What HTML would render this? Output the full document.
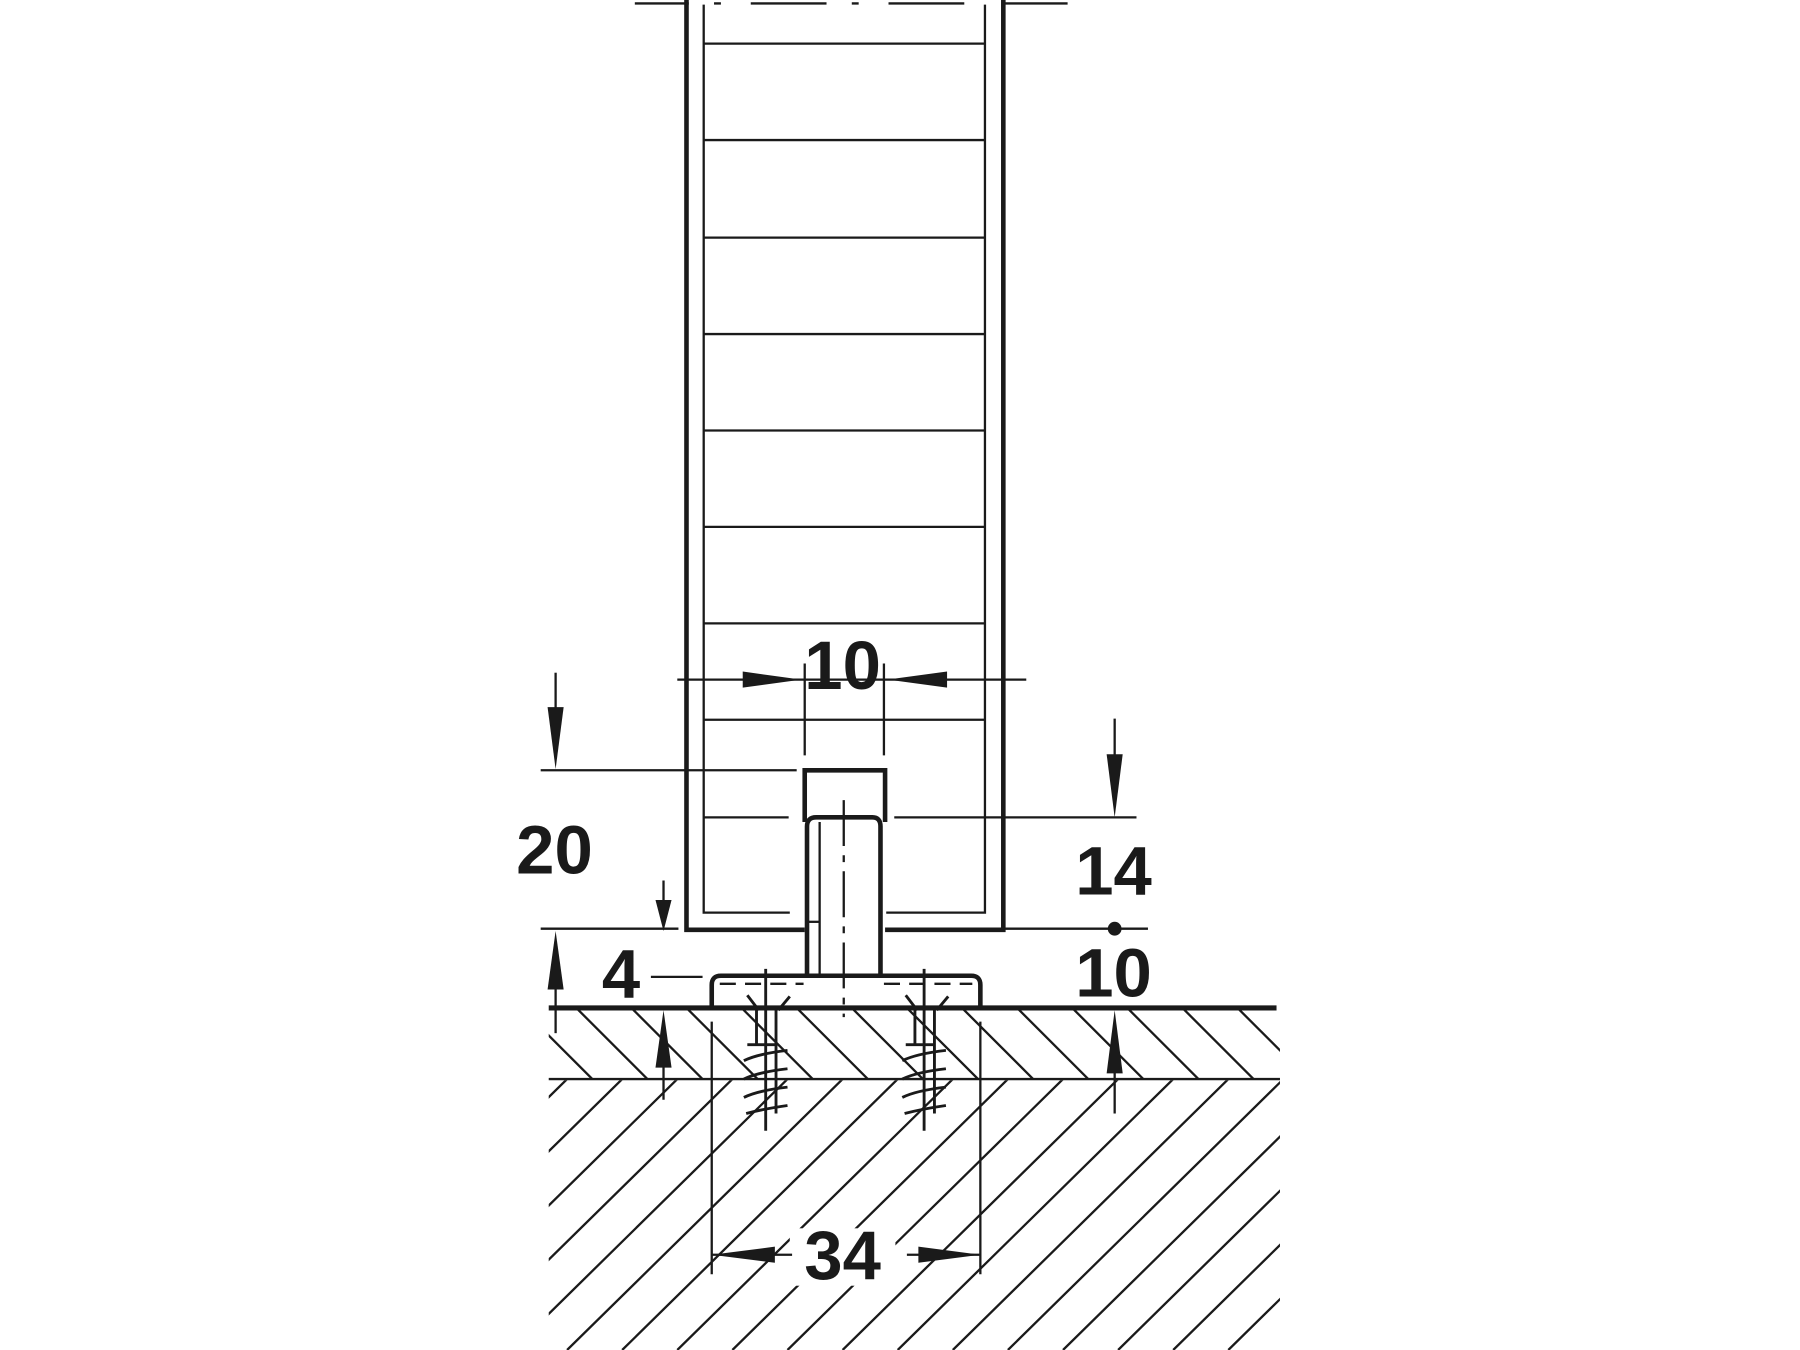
<!DOCTYPE html>
<html><head><meta charset="utf-8"><style>
html,body{margin:0;padding:0;background:#fff;}
svg{display:block;}
text{font-family:"Liberation Sans",Arial,sans-serif;font-weight:bold;fill:#1a1a1a;}
</style></head><body>
<svg width="1800" height="1350" viewBox="0 0 1568 1176" xmlns="http://www.w3.org/2000/svg">
<defs>
<clipPath id="c1"><rect x="478" y="880" width="637" height="60"/></clipPath>
<clipPath id="c2"><rect x="478" y="941" width="637" height="235"/></clipPath>
</defs>
<g stroke="#1a1a1a" fill="none" stroke-linecap="butt">
<line x1="553" y1="3" x2="600" y2="3" stroke-width="2"/>
<line x1="875" y1="3" x2="930" y2="3" stroke-width="2"/>
<line x1="622" y1="3" x2="858" y2="3" stroke-width="2" stroke-dasharray="6 26 66 22 6 26 66 22"/>
<path d="M598 0 V810 H701" stroke-width="4"/>
<path d="M874 0 V810 H771" stroke-width="4"/>
<path d="M613 4 V795 H688" stroke-width="2"/>
<path d="M858 4 V795 H772" stroke-width="2"/>
<g stroke-width="2">
<line x1="613" y1="38" x2="858" y2="38"/>
<line x1="613" y1="122" x2="858" y2="122"/>
<line x1="613" y1="207" x2="858" y2="207"/>
<line x1="613" y1="291" x2="858" y2="291"/>
<line x1="613" y1="375" x2="858" y2="375"/>
<line x1="613" y1="459" x2="858" y2="459"/>
<line x1="613" y1="543" x2="858" y2="543"/>
<line x1="613" y1="627" x2="858" y2="627"/>
<line x1="613" y1="712" x2="687" y2="712"/>
<line x1="779" y1="712" x2="990" y2="712"/>
<line x1="471" y1="671" x2="694" y2="671"/>
<line x1="471" y1="809" x2="591" y2="809"/>
<line x1="874" y1="809" x2="1000" y2="809"/>
<line x1="567" y1="851" x2="612" y2="851"/>
<line x1="590" y1="592" x2="894" y2="592"/>
<line x1="701" y1="578" x2="701" y2="658"/>
<line x1="770" y1="578" x2="770" y2="658"/>
</g>
<path d="M701 716 V671 H771 V716" stroke-width="4"/>
<path d="M703 850 V720 Q703 712 711 712 H760 Q767 712 767 720 V850" stroke-width="4"/>
<line x1="714" y1="716" x2="714" y2="850" stroke-width="2"/>
<line x1="703" y1="803" x2="714" y2="803" stroke-width="2"/>
<line x1="735" y1="697" x2="735" y2="886" stroke-width="2" stroke-dasharray="40 8 6 8"/>
<path d="M620 878 V858 Q620 850 628 850 H846 Q854 850 854 858 V878" stroke-width="4"/>
<line x1="627" y1="857" x2="700" y2="857" stroke-width="2" stroke-dasharray="14 8"/>
<line x1="770" y1="857" x2="847" y2="857" stroke-width="2" stroke-dasharray="14 8"/>
<line x1="478" y1="878" x2="1112" y2="878" stroke-width="4.5"/>
<line x1="478" y1="940" x2="1115" y2="940" stroke-width="2"/>
<g clip-path="url(#c1)" stroke-width="2">
<line x1="406" y1="878" x2="468" y2="940"/><line x1="454" y1="878" x2="516" y2="940"/><line x1="502" y1="878" x2="564" y2="940"/><line x1="550" y1="878" x2="612" y2="940"/><line x1="598" y1="878" x2="660" y2="940"/><line x1="646" y1="878" x2="708" y2="940"/><line x1="694" y1="878" x2="756" y2="940"/><line x1="742" y1="878" x2="804" y2="940"/><line x1="790" y1="878" x2="852" y2="940"/><line x1="838" y1="878" x2="900" y2="940"/><line x1="886" y1="878" x2="948" y2="940"/><line x1="934" y1="878" x2="996" y2="940"/><line x1="982" y1="878" x2="1044" y2="940"/><line x1="1030" y1="878" x2="1092" y2="940"/><line x1="1078" y1="878" x2="1140" y2="940"/>
</g>
<g clip-path="url(#c2)" stroke-width="2">
<line x1="254" y1="1176" x2="494" y2="940"/><line x1="302" y1="1176" x2="542" y2="940"/><line x1="350" y1="1176" x2="590" y2="940"/><line x1="398" y1="1176" x2="638" y2="940"/><line x1="446" y1="1176" x2="686" y2="940"/><line x1="494" y1="1176" x2="734" y2="940"/><line x1="542" y1="1176" x2="782" y2="940"/><line x1="590" y1="1176" x2="830" y2="940"/><line x1="638" y1="1176" x2="878" y2="940"/><line x1="686" y1="1176" x2="926" y2="940"/><line x1="734" y1="1176" x2="974" y2="940"/><line x1="782" y1="1176" x2="1022" y2="940"/><line x1="830" y1="1176" x2="1070" y2="940"/><line x1="878" y1="1176" x2="1118" y2="940"/><line x1="926" y1="1176" x2="1166" y2="940"/><line x1="974" y1="1176" x2="1214" y2="940"/><line x1="1022" y1="1176" x2="1262" y2="940"/><line x1="1070" y1="1176" x2="1310" y2="940"/>
</g>
<g stroke-width="2.5">
<line x1="667" y1="844" x2="667" y2="985"/>
<line x1="805" y1="844" x2="805" y2="985"/>
<path d="M651 867 L661 880 M688 868 L678 880 M659 880 V910 M676 880 V970 M651 910 H675"/>
<path d="M789 867 L799 880 M826 868 L816 880 M797 880 V910 M814 880 V970 M789 910 H813"/>
<path d="M648 924 Q660 918 686 915 M648 940 Q660 934 686 931 M648 956 Q660 950 686 947 M650 970 Q665 966 686 963"/>
<path d="M786 924 Q798 918 824 915 M786 940 Q798 934 824 931 M786 956 Q798 950 824 947 M788 970 Q803 966 824 963"/>
</g>
<line x1="620" y1="890" x2="620" y2="1110" stroke-width="2"/>
<line x1="854" y1="890" x2="854" y2="1110" stroke-width="2"/>
<line x1="484" y1="586" x2="484" y2="640" stroke-width="2"/>
<line x1="484" y1="850" x2="484" y2="900" stroke-width="2"/>
<line x1="578" y1="767" x2="578" y2="790" stroke-width="2"/>
<line x1="578" y1="920" x2="578" y2="958" stroke-width="2"/>
<line x1="971" y1="626" x2="971" y2="660" stroke-width="2"/>
<line x1="971" y1="920" x2="971" y2="970" stroke-width="2"/>
</g>
<rect x="688" y="1070" width="92" height="50" fill="#fff"/>
<g fill="#1a1a1a">
<line x1="620" y1="1093" x2="690" y2="1093" stroke="#1a1a1a" stroke-width="2"/>
<line x1="790" y1="1093" x2="854" y2="1093" stroke="#1a1a1a" stroke-width="2"/>
<polygon points="620,1093 675,1086 675,1100"/>
<polygon points="854,1093 800,1086 800,1100"/>
<polygon points="698,592 647,585 647,599"/>
<polygon points="773,592 825,585 825,599"/>
<polygon points="484,670 477,616 491,616"/>
<polygon points="484,811 477,862 491,862"/>
<polygon points="578,811 571,784 585,784"/>
<polygon points="578,880 571,930 585,930"/>
<polygon points="971,712 964,657 978,657"/>
<polygon points="971,880 964,935 978,935"/>
<circle cx="971" cy="809" r="6"/>
</g>
<text x="734" y="600" font-size="60" text-anchor="middle">10</text>
<text x="483" y="761" font-size="60" text-anchor="middle">20</text>
<text x="541" y="869" font-size="60" text-anchor="middle">4</text>
<text x="970" y="779" font-size="60" text-anchor="middle">14</text>
<text x="970" y="868" font-size="60" text-anchor="middle">10</text>
<text x="734" y="1114" font-size="60" text-anchor="middle">34</text>
</svg>
</body></html>
